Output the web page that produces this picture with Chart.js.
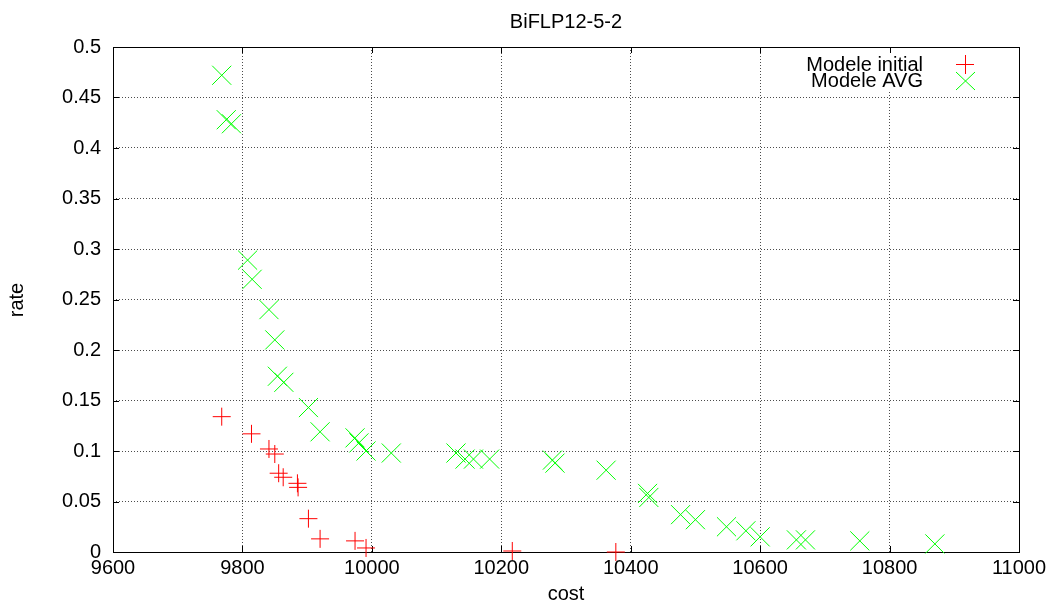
<!DOCTYPE html>
<html>
<head>
<meta charset="utf-8">
<script src="https://cdn.jsdelivr.net/npm/chart.js@4"></script>
<style>
  html,body{margin:0;padding:0;background:#fff;}
  canvas{display:block;}
</style>
</head>
<body>
<canvas id="c" width="1055" height="603"></canvas>
<script>
// data
const costInitial=[9768,9814,9841,9850,9856,9863,9885,9886,9902,9920,9974,9991,10217,10377];
const rateInitial=[0.134,0.117,0.102,0.097,0.078,0.074,0.068,0.064,0.033,0.013,0.011,0.004,0.001,0.0];

const costAvg=[9768,9775,9783,9808,9815,9841,9850,9854,9864,9902,9920,9974,9980,9991,10030,
  10130,10144,10157,10182,10279,10283,10362,10426,10428,10477,10500,10548,10578,10600,10656,10670,10754,10870];
const rateAvg=[0.472,0.428,0.424,0.289,0.270,0.240,0.210,0.174,0.168,0.143,0.119,0.113,0.108,0.100,0.098,
  0.098,0.092,0.092,0.092,0.091,0.088,0.081,0.058,0.054,0.037,0.032,0.025,0.021,0.015,0.012,0.012,0.011,0.008];

const seriesNames=['Modele initial','Modele AVG'];
const chartTitle='BiFLP12-5-2';
const xTitle='cost', yTitle='rate';

const FONT='"Liberation Sans", Arial, sans-serif';
const RED='#ff0000', GREEN='#00ff00';

const pts=(xs,ys)=>xs.map((x,i)=>({x,y:ys[i]}));

// gnuplot-like frame, inward ticks, legend and labels
const gnuFrame={
  id:'gnuFrame',
  beforeDatasetsDraw(chart){
    const {ctx,chartArea:a,scales:{x,y}}=chart;
    ctx.save();
    // legend box blanks grid
    ctx.fillStyle='#fff';
    ctx.fillRect(795,49,222,41);
    ctx.strokeStyle='#000';ctx.lineWidth=1;
    ctx.beginPath();
    x.ticks.forEach(t=>{
      const px=Math.round(x.getPixelForValue(t.value))+0.5;
      ctx.moveTo(px,a.bottom);ctx.lineTo(px,a.bottom-6);
      ctx.moveTo(px,a.top);ctx.lineTo(px,a.top+6);
    });
    y.ticks.forEach(t=>{
      const py=Math.round(y.getPixelForValue(t.value))+0.5;
      ctx.moveTo(a.left,py);ctx.lineTo(a.left+6,py);
      ctx.moveTo(a.right,py);ctx.lineTo(a.right-6,py);
    });
    ctx.stroke();
    ctx.strokeRect(Math.round(a.left)+0.5,Math.round(a.top)+0.5,Math.round(a.right-a.left),Math.round(a.bottom-a.top));
    ctx.restore();
  },
  afterDraw(chart){
    const {ctx}=chart;
    ctx.save();
    ctx.fillStyle='#000';
    ctx.font='20px '+FONT;
    ctx.textBaseline='alphabetic';
    ctx.textAlign='center';
    ctx.fillText(chartTitle,566,28);
    ctx.fillText(xTitle,566,600);
    ctx.save();
    ctx.translate(23,300);ctx.rotate(-Math.PI/2);
    ctx.fillText(yTitle,0,0);
    ctx.restore();
    // legend
    ctx.textAlign='right';
    ctx.fillText(seriesNames[0],923,71);
    ctx.fillText(seriesNames[1],923,87);
    ctx.lineWidth=1;
    ctx.strokeStyle=RED;
    ctx.beginPath();
    ctx.moveTo(956,64.5);ctx.lineTo(974,64.5);
    ctx.moveTo(965.5,55);ctx.lineTo(965.5,74);
    ctx.stroke();
    ctx.strokeStyle=GREEN;
    ctx.beginPath();
    ctx.moveTo(956,72);ctx.lineTo(975,90);
    ctx.moveTo(975,72);ctx.lineTo(956,90);
    ctx.stroke();
    ctx.restore();
  }
};

new Chart(document.getElementById('c'),{
  type:'scatter',
  data:{datasets:[
    {label:seriesNames[0],data:pts(costInitial,rateInitial),pointStyle:'cross',pointRadius:9,
      borderColor:RED,backgroundColor:RED,pointBorderWidth:1,clip:false},
    {label:seriesNames[1],data:pts(costAvg,rateAvg),pointStyle:'crossRot',pointRadius:13.5,
      borderColor:GREEN,backgroundColor:GREEN,pointBorderWidth:1,clip:false}
  ]},
  options:{
    responsive:false,animation:false,
    events:[],
    layout:{padding:{top:47,right:36,left:0,bottom:0}},
    plugins:{legend:{display:false},tooltip:{enabled:false},title:{display:false}},
    scales:{
      x:{type:'linear',min:9600,max:11000,
        ticks:{stepSize:200,color:'#000',font:{family:FONT,size:20},padding:4,maxRotation:0,
          callback:v=>String(v)},
        grid:{color:'rgba(0,0,0,0.7)',lineWidth:1,drawTicks:false},
        border:{display:false,dash:[1,2]},
        afterFit:s=>{s.height=51;}},
      y:{type:'linear',min:0,max:0.5,
        ticks:{stepSize:0.05,color:'#000',font:{family:FONT,size:20},padding:12,
          callback:v=>String(Number(v.toFixed(2)))},
        grid:{color:'rgba(0,0,0,0.7)',lineWidth:1,drawTicks:false},
        border:{display:false,dash:[1,2]},
        afterFit:s=>{s.width=113;}}
    }
  },
  plugins:[gnuFrame]
});
</script>
</body>
</html>
